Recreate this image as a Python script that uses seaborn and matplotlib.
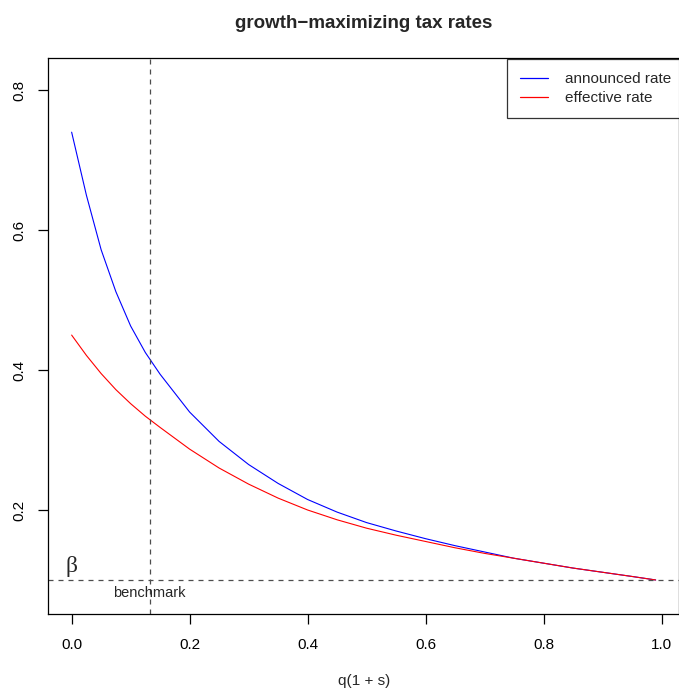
import numpy as np
import pandas as pd
import matplotlib
matplotlib.use("Agg")
import matplotlib.pyplot as plt
import seaborn as sns

# values
q = [0.0, 0.025, 0.05, 0.075, 0.10, 0.125, 0.15, 0.20, 0.25, 0.30, 0.35, 0.40,
     0.45, 0.50, 0.55, 0.60, 0.65, 0.70, 0.75, 0.80, 0.85, 0.90, 0.95, 0.99]
announced = [0.740, 0.650, 0.572, 0.512, 0.463, 0.425, 0.394, 0.340, 0.298, 0.265,
             0.238, 0.215, 0.197, 0.182, 0.170, 0.159, 0.149, 0.140, 0.131, 0.124,
             0.117, 0.111, 0.105, 0.100]
effective = [0.450, 0.421, 0.395, 0.372, 0.352, 0.334, 0.318, 0.287, 0.260, 0.237,
             0.217, 0.200, 0.186, 0.174, 0.164, 0.155, 0.146, 0.138, 0.131, 0.124,
             0.117, 0.111, 0.105, 0.100]
series_names = ["announced rate", "effective rate"]
series_colors = ["#0000FF", "#FF0000"]
beta = 0.1
q_benchmark = 0.132

df = pd.DataFrame({
    "q": q * 2,
    "rate": announced + effective,
    "series": [series_names[0]] * len(q) + [series_names[1]] * len(q),
})

sns.set_theme(style="white")
plt.rcParams["font.family"] = ["Liberation Sans", "DejaVu Sans"]

fig = plt.figure(figsize=(6.79, 6.89), dpi=100)
ax = fig.add_axes([0.0711, 0.1089, 0.9289, 0.8069])

sns.lineplot(data=df, x="q", y="rate", hue="series", palette=series_colors,
             sort=False, linewidth=0.8, ax=ax)

dash = (0, (4, 4))
ax.axvline(q_benchmark, color="#4d4d4d", linestyle=dash, linewidth=0.9)
ax.axhline(beta, color="#4d4d4d", linestyle=dash, linewidth=0.9)
ax.text(0.0, beta + 0.004, "β", family=["Liberation Serif", "DejaVu Serif"],
        fontsize=17, ha="center", va="bottom")
ax.text(q_benchmark, 0.081, "benchmark", fontsize=10.5, ha="center", va="center")

ax.set_xlim(-0.0396, 1.0296)
ax.set_ylim(0.0514, 0.846)
ax.set_xticks([0.0, 0.2, 0.4, 0.6, 0.8, 1.0])
ax.set_yticks([0.2, 0.4, 0.6, 0.8])
ax.set_xticklabels(["0.0", "0.2", "0.4", "0.6", "0.8", "1.0"])
ax.set_yticklabels(["0.2", "0.4", "0.6", "0.8"])
ax.tick_params(axis="both", direction="out", length=7, width=0.9, labelsize=11,
               color="black", labelcolor="black", pad=9, left=True, bottom=True)
ax.tick_params(axis="x", pad=10)
for lbl in ax.get_yticklabels():
    lbl.set_rotation(90)
    lbl.set_va("center")

for s in ax.spines.values():
    s.set_color("black")
    s.set_linewidth(0.9)

ax.set_xlabel("q(1 + s)", fontsize=11, labelpad=16)
ax.set_ylabel("")
ax.set_title("growth\u2212maximizing tax rates", fontsize=13.5, fontweight="bold", pad=21.5)

handles, labels = ax.get_legend_handles_labels()
leg = ax.legend(handles, labels, loc="upper left", bbox_to_anchor=(0.7273, 0.998),
                borderaxespad=0, frameon=True, fancybox=False, fontsize=11,
                handlelength=1.85, handletextpad=1.1, borderpad=0.85,
                labelspacing=0.35, title=None)
leg.get_frame().set_edgecolor("black")
leg.get_frame().set_linewidth(0.9)
for line in leg.get_lines():
    line.set_linewidth(0.9)

fig.savefig("out.png", dpi=100)
